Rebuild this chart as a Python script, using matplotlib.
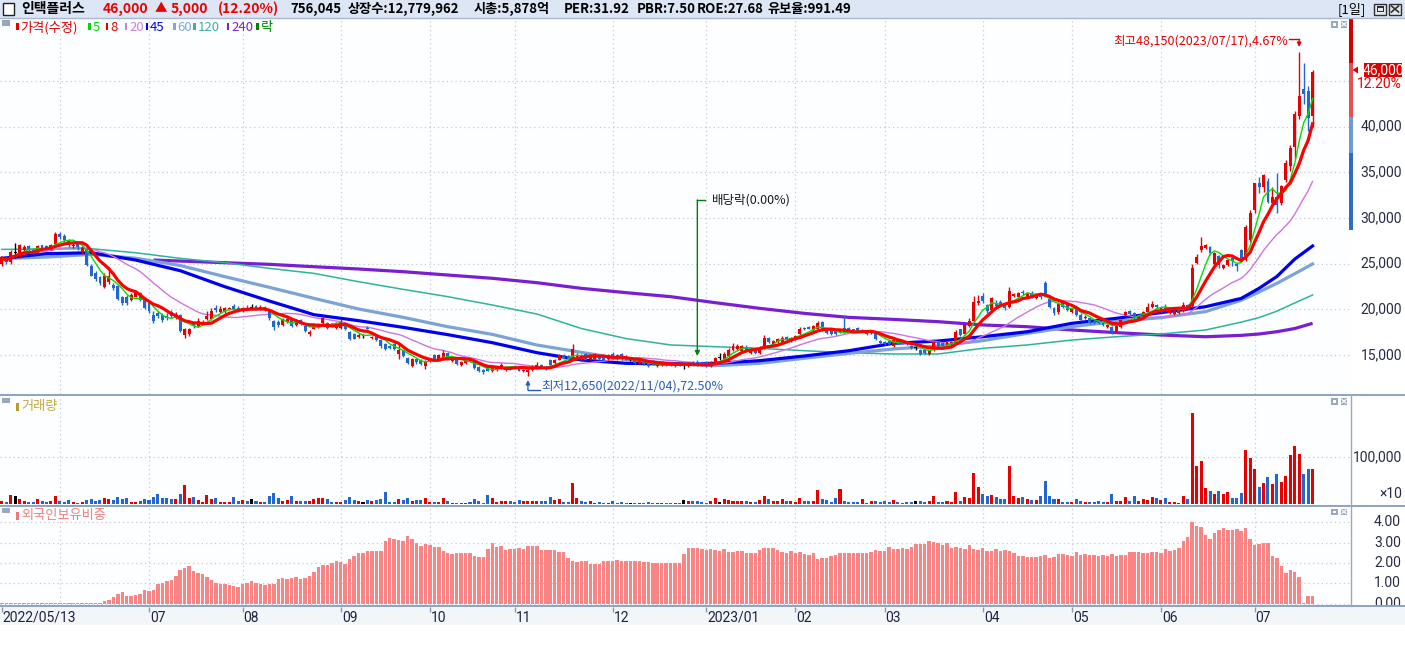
import numpy as np
import pandas as pd
import matplotlib
matplotlib.use("Agg")
import matplotlib.pyplot as plt
from matplotlib.patches import Rectangle, Polygon
from matplotlib.lines import Line2D
from matplotlib.transforms import blended_transform_factory as blend

# ---------------- data (prices in hundreds of won) ----------------
opens = [
    250,256,252,262,258,265,269,266,263,270, 269,267,272,282,280,276,269,272,263,266,
    248,240,235,225,230,227,226,214,214,210, 214,218,212,207,194,196,194,193,197,190,
    194,172,173,184,182,184,189,189,202,197, 197,200,204,202,198,202,202,204,200,203,
    199,187,186,183,186,189,183,188,182,173, 179,181,185,185,184,180,180,182,175,173,
    170,171,180,169,171,166,162,160,162,151, 155,147,138,146,145,138,143,150,146,146,
    152,143,146,139,141,146,143,137,134,137, 132,134,136,134,137,138,136,132,131,134,
    136,139,137,145,141,145,150,149,145,148, 150,151,146,146,150,148,146,151,150,151,
    149,145,145,141,143,141,143,138,139,141, 141,138,141,138,138,142,142,141,142,138,
    142,147,146,149,155,157,154,159,152,155, 152,158,169,162,164,164,170,165,167,173,
    180,181,177,179,186,177,177,176,175,180, 180,178,180,176,176,174,174,165,164,165,
    160,167,164,164,160,158,156,155,151,155, 164,163,160,162,163,178,173,182,187,207,
    215,205,199,207,208,204,203,215,214,219, 213,218,212,217,229,211,201,197,207,206,
    197,200,194,190,190,187,188,185,181,181, 176,181,194,198,196,189,194,197,203,205,
    197,203,196,195,196,198,205,204,251,265, 267,268,250,258.5,245,249,256,250,265,254,
    276,309,338,334,341,316,323,316,342,357, 378,412,441,439,412]
highs = [
    258,258,265,273,272,270,271,267,271,271, 271,272,285,285,283,277,273,273,269,267,
    250,242,237,240,244,229,227,215,216,218, 219,219,213,208,198,198,196,196,199,197,
    195,180,180,186,190,188,198,202,205,204, 203,203,206,204,203,205,206,205,205,204,
    200,188,188,190,190,190,189,189,183,177, 183,185,193,186,185,186,189,184,176,174,
    174,173,182,171,172,167,163,161,163,163, 156,148,147,147,146,144,147,151,151,156,
    153,148,147,143,144,147,144,138,135,138, 138,138,141,138,138,139,137,135,135,139,
    142,140,138,146,146,151,151,150,162,152, 151,152,151,152,151,149,151,153,151,152,
    150,146,146,144,144,142,144,142,143,142, 142,142,142,139,142,143,144,142,143,143,
    148,152,153,158,163,162,161,161,156,156, 160,172,170,166,169,171,171,170,172,181,
    181,182,183,187,187,178,178,177,178,194, 181,179,181,178,177,177,175,166,165,166,
    167,168,165,165,161,160,157,156,156,165, 165,164,165,165,177,179,184,190,215,216,
    218,206,213,210,210,206,225,218,219,221, 219,220,218,218,231,212,203,208,208,207,
    202,201,196,194,191,188,189,186,184,182, 186,189,198,199,197,195,198,207,209,206,
    203,206,200,200,200,208,206,250,260.5,279, 272,269,263,259,250,255,257,251,266,292,
    309,338,345.5,348.5,344,334,349,336,364,380, 417,481.5,470,445,462]
lows = [
    247,250,250,256,256,263,263,261,262,264, 265,265,271,277,274,268,267,265,261,247,
    236,231,227,223,228,221,210,205,205,209, 213,209,200,196,185,191,186,188,191,189,
    175,169,171,180,181,183,188,188,197,196, 196,199,198,197,197,199,199,199,199,198,
    188,177,181,182,185,181,182,183,175,171, 178,180,184,179,181,179,179,177,166,167,
    169,169,178,168,165,158,156,157,156,146, 148,140,137,140,139,135,142,145,145,145,
    146,142,139,138,140,142,135,131,129,132, 131,133,135,133,134,136,132,131,126.5,133,
    135,136,134,138,140,144,146,144,144,147, 145,144,145,145,145,144,145,146,145,145,
    144,143,140,140,139,137,139,137,138,138, 138,137,138,135,137,138,138,138,137,137,
    141,145,145,148,154,156,153,154,151,151, 151,157,163,161,163,163,167,164,166,172,
    177,178,176,178,176,173,172,172,174,174, 176,176,175,175,172,173,166,162,161,161,
    159,162,162,161,157,155,150,151,150,154, 159,159,159,161,162,171,172,181,186,205,
    207,196,198,203,204,199,202,214,213,216, 212,212,211,211,213,201,194,195,202,198,
    196,193,187,189,184,184,184,182,180,173, 175,180,193,194,189,188,193,196,202,202,
    196,199,195,194,195,197,201,203,250,263, 266,260,249,245,244,248,248,242,252,253,
    274,306,327.5,329,316,314,306,314,340,351, 365,408,425,395,400]
closes = [
    256,252,263,262,270,268,265,263,269,266, 267,270,283,279,276,270,271,268,267,249,
    237,233,229,237,236,223,211,207,207,216, 218,210,202,198,187,193,188,190,193,195,
    176,178,179,182,187,186,193,198,199,200, 201,201,199,198,201,200,202,200,203,199,
    190,181,183,189,189,182,187,184,176,175, 182,184,191,180,183,185,186,178,168,168,
    172,171,179,170,166,160,157,158,157,155, 149,141,146,142,140,143,146,146,150,152,
    147,146,140,142,143,143,136,133,131,133, 137,137,139,137,136,137,133,134,134,137,
    139,137,135,139,145,150,147,145,157,150, 146,145,150,151,146,145,150,147,146,146,
    145,145,141,143,140,138,140,141,142,139, 139,141,139,138,141,139,139,139,138,142,
    147,147,151,155,160,160,160,155,155,152, 158,169,164,165,168,169,168,169,171,179,
    178,179,182,185,177,174,173,173,177,175, 177,177,176,177,173,176,168,163,162,162,
    166,163,163,162,158,158,151,152,155,164, 160,160,164,164,175,172,183,187,208,209,
    209,198,212,204,205,201,220,217,218,218, 217,214,216,213,214,203,196,206,203,199,
    201,194,188,192,185,185,185,183,183,176, 185,188,197,195,190,194,197,203,206,203,
    201,200,199,199,199,205,203,245,257,269, 270,262,262,248.5,249,254,253,247,253,290,
    306,338,334,347,318,323,314,335,360,377, 414,434,436,410,460]

# volume in hundreds of shares
volume = [
    64,43,193,171,107,64,43,43,107,64, 50,64,171,64,43,86,50,29,50,86,
    107,64,86,129,107,86,150,107,129,43, 50,64,107,86,150,214,129,129,107,107,
    214,407,129,150,86,43,193,107,129,43, 43,43,150,64,86,64,107,64,43,43,
    171,236,129,64,86,171,64,64,64,64, 107,129,129,107,43,43,43,86,150,86,
    64,43,86,64,86,107,257,43,43,107, 86,129,64,86,86,129,43,43,43,129,
    64,21,21,21,21,43,107,64,21,193, 129,43,64,64,64,43,86,64,64,64,
    64,64,64,150,86,107,43,43,450,129, 64,43,64,21,43,21,21,64,21,43,
    21,21,21,21,21,43,21,21,21,21, 21,21,21,86,64,64,64,43,21,64,
    129,43,107,86,64,64,64,64,43,43, 86,171,107,64,64,107,64,64,43,129,
    64,64,64,300,107,86,43,129,321,64, 43,43,43,107,21,64,64,43,64,43,
    86,43,21,43,43,64,64,43,64,171, 43,43,64,43,257,64,150,129,664,364,
    214,171,193,150,107,107,814,171,129,150, 107,86,86,171,493,171,107,107,43,43,
    43,107,64,43,43,43,64,43,43,214, 64,64,150,64,171,64,107,86,150,129,
    86,129,43,43,21,171,107,1956,814,921, 343,279,214,279,214,257,129,129,236,1157,
    985,750,364,450,578,428,643,471,600,1057, 1242,1071,643,750,750]

# foreign ownership ratio (%)
foreign = [
    0.03,0.03,0.03,0.03,0.03,0.03,0.03,0.03,0.03,0.03, 0.03,0.03,0.03,0.03,0.03,0.03,0.03,0.03,0.03,0.03,
    0.03,0.03,0.03,0.13,0.18,0.30,0.46,0.59,0.36,0.38, 0.41,0.46,0.66,0.63,0.67,0.95,0.99,1.12,1.15,1.37,
    1.65,1.74,1.84,1.61,1.48,1.45,1.32,1.15,0.99,0.95, 0.95,0.91,0.86,0.82,0.95,1.00,1.09,1.00,0.95,0.92,
    0.95,0.95,1.19,1.25,1.19,1.28,1.32,1.19,1.28,1.37, 1.53,1.78,1.91,1.91,1.98,2.11,2.02,1.94,2.19,2.32,
    2.50,2.50,2.60,2.60,2.60,2.60,3.09,3.23,3.16,3.13, 3.08,3.33,3.16,3.00,2.85,2.91,2.86,2.77,2.77,2.57,
    2.49,2.44,2.49,2.49,2.49,2.49,2.34,2.30,2.30,2.70, 2.98,2.80,2.85,2.63,2.70,2.70,2.73,2.67,2.81,2.81,
    2.81,2.63,2.63,2.63,2.63,2.53,2.53,2.24,2.11,2.04, 2.07,2.07,1.94,1.94,1.94,2.07,2.07,2.11,2.14,2.11,
    2.11,2.11,2.11,2.11,2.04,2.04,2.01,2.01,2.01,2.01, 1.99,1.99,1.99,2.44,2.73,2.73,2.73,2.68,2.65,2.68,
    2.65,2.58,2.68,2.53,2.53,2.58,2.58,2.49,2.49,2.49, 2.63,2.73,2.73,2.73,2.63,2.53,2.49,2.58,2.49,2.53,
    2.44,2.39,2.49,2.21,2.26,2.26,2.34,2.39,2.49,2.49, 2.49,2.49,2.49,2.49,2.49,2.53,2.63,2.58,2.58,2.78,
    2.68,2.68,2.73,2.68,2.78,2.93,2.93,2.93,3.08,3.03, 2.98,2.88,2.98,2.73,2.78,2.73,2.68,2.88,2.68,2.63,
    2.73,2.58,2.58,2.68,2.58,2.63,2.58,2.49,2.34,2.34, 2.29,2.29,2.29,2.34,2.39,2.24,2.29,2.44,2.44,2.39,
    2.34,2.53,2.39,2.44,2.39,2.39,2.34,2.39,2.34,2.44, 2.34,2.39,2.39,2.53,2.53,2.53,2.49,2.49,2.53,2.53,
    2.49,2.68,2.58,2.63,2.73,3.08,3.28,4.02,3.82,3.77, 3.37,3.18,3.47,3.62,3.72,3.62,3.62,3.67,3.57,3.72,
    3.18,2.88,2.93,2.98,2.98,2.34,2.24,1.84,1.50,1.65, 1.55,1.30,0.02,0.36,0.36]

ma_idx = [0,10,20,30,40,50,60,70,80,90,100,110,120,130,140,150,160,170,180,190,
          200,210,220,230,240,250,260,270,278,282,286,290,294]
ma45 = [25590,26100,26200,25400,24235,22480,20910,19415,18760,18030,17230,16350,15255,14450,
        14090,14010,14090,14380,14890,15470,16280,16530,17000,17550,18470,19020,19640,20290,
        21200,22300,23600,25500,26940]
ma60 = [25550,25730,26020,25600,24800,23580,22410,21205,20040,19125,18100,17260,16095,15290,
        14500,14090,13830,14090,14640,15180,15660,15990,16570,17370,18100,18690,19090,19750,
        21000,21900,22850,23900,24970]
ma120 = [26570,26600,26640,26200,25585,25110,24490,23940,23030,22190,21390,20475,19490,17900,
         16800,16100,15910,15730,15470,15250,15110,15110,15730,16100,16640,17000,17300,17740,
         18600,19100,19800,20700,21570]
ma240_idx = [34,40,50,60,70,80,90,100,110,120,130,140,150,160,170,180,190,200,210,220,230,
             240,250,260,270,278,282,286,290,294]
ma240 = [25400,25290,25110,24930,24670,24420,24125,23760,23400,22920,22300,21830,21390,20730,
         20110,19560,19120,18900,18650,18290,18100,17740,17450,17190,17000,17150,17300,17550,
         17900,18470]

month_idx = [13,33,54,76,96,115,137,158,178,198,220,240,260,281]
month_lbl = ['','07','08','09','10','11','12','2023/01','02','03','04','05','06','07']
first_lbl = '2022/05/13'
price_ticks = [15000,20000,25000,30000,35000,40000]
price_grid = [15000,20000,25000,30000,35000,40000,45000]
foreign_ticks = [0,1,2,3,4]

low_idx, low_text = 118, '최저12,650(2022/11/04),72.50%'
high_idx, high_text = 291, '최고48,150(2023/07/17),4.67%'
div_idx, div_text = 156, '배당락(0.00%)'

# ---------------- setup ----------------
KR = ['Noto Sans CJK KR', 'DejaVu Sans']
NUM = ['Liberation Sans Narrow', 'Roboto', 'DejaVu Sans']
plt.rcParams['font.family'] = KR

O = np.array(opens, float) * 100
Hh = np.array(highs, float) * 100
L = np.array(lows, float) * 100
C = np.array(closes, float) * 100
V = np.array(volume, float) * 100
F = np.array(foreign, float)
n = len(C)
idx = np.arange(n)

RED = '#e80000'
BLUE = '#2266d2'
GRID = '#c4cad4'
col = np.where(C > O, RED, np.where(C < O, BLUE, '#000000'))

W, H = 1405, 648
fig = plt.figure(figsize=(W / 100, H / 100), dpi=100)
fig.patch.set_facecolor('white')


def box(x0, y0, x1, y1):
    return [x0 / W, 1 - y1 / H, (x1 - x0) / W, (y1 - y0) / H]


def ftxt(x, y, s, **kw):
    kw.setdefault('va', 'center')
    return fig.text(x / W, 1 - y / H, s, **kw)


def frect(x0, y0, x1, y1, **kw):
    r = Rectangle((x0 / W, 1 - y1 / H), (x1 - x0) / W, (y1 - y0) / H,
                  transform=fig.transFigure, **kw)
    fig.add_artist(r)
    return r


def fline(xs, ys, **kw):
    fig.add_artist(Line2D([x / W for x in xs], [1 - y / H for y in ys],
                          transform=fig.transFigure, **kw))


PX0, STEP = 1.9, 4.458
XL = ((0 - PX0) / STEP, (1350 - PX0) / STEP)


def p_at(y):      # price value at pixel row y
    return 15000 + (355 - y) / 0.00913


def v_at(y):
    return (504 - y) * 100000 / 46.7


def f_at(y):
    return (603.5 - y) / 20.3


def clean(ax):
    for s in ax.spines.values():
        s.set_visible(False)
    ax.set_xticks([])
    ax.set_yticks([])
    ax.set_xlim(*XL)


dot = (0, (1, 2.5))

# ---------------- price panel ----------------
axp = fig.add_axes(box(0, 18, 1350, 394))
clean(axp)
axp.set_facecolor('#fdfeff')
axp.set_ylim(p_at(394), p_at(18))
for m in month_idx:
    axp.axvline(m, color=GRID, lw=0.9, ls=dot, zorder=0)
for g in price_grid:
    axp.axhline(g, color=GRID, lw=0.9, ls=dot, zorder=0)

axp.plot(ma240_idx, ma240, color='#7a1ed2', lw=2.3, zorder=1, solid_capstyle='butt')
axp.plot(ma_idx, ma120, color='#2fb29f', lw=1.1, zorder=1)
axp.plot(ma_idx, ma60, color='#7ba3d6', lw=2.3, zorder=1)
axp.plot(ma_idx, ma45, color='#0000f0', lw=2.3, zorder=1)
ma20 = pd.Series(C).rolling(20, min_periods=1).mean()
axp.plot(idx, ma20, color='#d074e0', lw=1.0, zorder=2)

axp.vlines(idx, L, Hh, colors=col, lw=1.0, zorder=3)
body_h = np.maximum(np.abs(C - O), 80)
body_b = np.minimum(O, C) - np.where(C == O, 40, 0)
axp.bar(idx, body_h, bottom=body_b, width=0.66, color=col, linewidth=0, zorder=4)

ma5 = pd.Series(C).rolling(5, min_periods=1).mean()
ma8 = pd.Series(C).rolling(8, min_periods=1).mean()
axp.plot(idx, ma5, color='#00e000', lw=1.0, zorder=5)
axp.plot(idx, ma8, color='#ff0000', lw=2.3, zorder=6)

# dividend marker
axp.annotate('', xy=(div_idx, p_at(356)), xytext=(div_idx, p_at(200)),
             arrowprops=dict(arrowstyle='-|>', color='#008000', lw=1.0,
                             mutation_scale=7, shrinkA=0, shrinkB=0), zorder=7)
axp.plot([div_idx, div_idx + 1.8], [p_at(200), p_at(200)], color='#008000', lw=1.0, zorder=7)
axp.text(div_idx + 3.2, p_at(200), div_text, color='#1a1a1a', fontsize=9,
         va='center', ha='left', zorder=8)

# low marker
axp.annotate('', xy=(low_idx, p_at(380)), xytext=(low_idx, p_at(390)),
             arrowprops=dict(arrowstyle='-|>', color='#2a5cc0', lw=1.0,
                             mutation_scale=6, shrinkA=0, shrinkB=0), zorder=7)
axp.plot([low_idx, low_idx + 2.8], [p_at(389.5), p_at(389.5)], color='#2a5cc0', lw=1.0, zorder=7)
axp.text(low_idx + 3.1, p_at(386.5), low_text, color='#2a5cc0', fontsize=9,
         va='center', ha='left', zorder=8)

# high marker
axp.text(high_idx - 2.6, p_at(41), high_text, color=RED, fontsize=9,
         va='center', ha='right', zorder=8)
axp.plot([high_idx - 2.3, high_idx], [p_at(39.5), p_at(39.5)], color=RED, lw=1.0, zorder=7)
axp.annotate('', xy=(high_idx, p_at(47)), xytext=(high_idx, p_at(39.5)),
             arrowprops=dict(arrowstyle='-|>', color=RED, lw=1.0,
                             mutation_scale=6, shrinkA=0, shrinkB=0), zorder=7)

tr = blend(axp.transAxes, axp.transData)
for t in price_ticks:
    axp.text(1402 / 1350, t, f'{t:,}', transform=tr, ha='right', va='center',
             fontsize=10, family=NUM, color='#262b45', clip_on=False)

# ---------------- volume panel ----------------
axv = fig.add_axes(box(0, 395, 1350, 505))
clean(axv)
axv.set_facecolor('#fdfeff')
axv.set_ylim(v_at(505), v_at(395))
for m in month_idx:
    axv.axvline(m, color=GRID, lw=0.9, ls=dot, zorder=0)
axv.axhline(100000, color=GRID, lw=0.9, ls=dot, zorder=0)
axv.bar(idx, V, width=0.68, color=col, linewidth=0, zorder=2)
trv = blend(axv.transAxes, axv.transData)
axv.text(1402 / 1350, 100000, '100,000', transform=trv, ha='right', va='center',
         fontsize=10, family=NUM, color='#262b45', clip_on=False)
ftxt(1402, 494, '×10', ha='right', fontsize=10, family=NUM, color='#262b45')

# ---------------- foreign ownership panel ----------------
axf = fig.add_axes(box(0, 506, 1350, 606))
clean(axf)
axf.set_facecolor('#fdfeff')
axf.set_ylim(f_at(606), f_at(506))
for m in month_idx:
    axf.axvline(m, color=GRID, lw=0.9, ls=dot, zorder=0)
for t in foreign_ticks:
    axf.axhline(t, color=GRID, lw=0.9, ls=dot, zorder=0)
axf.bar(idx, F, width=0.78, color='#f88484', linewidth=0, zorder=2)
trf = blend(axf.transAxes, axf.transData)
for t in foreign_ticks:
    axf.text(1401 / 1350, t, f'{t:.2f}', transform=trf, ha='right', va='center',
             fontsize=10, family=NUM, color='#262b45', clip_on=False)

# ---------------- date strip ----------------
axd = fig.add_axes(box(0, 606, 1405, 625))
for s in axd.spines.values():
    s.set_visible(False)
axd.set_xticks([])
axd.set_yticks([])
axd.set_facecolor('#f3f6f9')
axd.set_xlim(XL[0], (1405 - PX0) / STEP)
axd.set_ylim(625, 606)
axd.vlines([0] + month_idx[1:], 606.5, 611.5, colors='#8a98b0', lw=1.0)
axd.text(0.02, 617.5, first_lbl, ha='left', va='center', fontsize=10, family=NUM, color='#1c2342')
for m, lb in zip(month_idx, month_lbl):
    if lb:
        axd.text(m + 0.25, 617.5, lb, ha='left', va='center', fontsize=10,
                 family=NUM, color='#1c2342')

# ---------------- frame lines & decorations ----------------
frect(0, 0, 1405, 18, facecolor='#dde6f4', edgecolor='none', zorder=0)
fline([0, 1405], [18, 18], color='#a9b8d0', lw=1.0)
for yy in (394.5, 505.5, 606):
    fline([0, 1405], [yy, yy], color='#8ea3c2', lw=1.4)
fline([1350.5, 1350.5], [395, 606], color='#9aa8bc', lw=1.0)

# right-side price range bar
frect(1349, 18, 1353, 63, facecolor='#d40000', edgecolor='none')
frect(1349, 63, 1353, 117, facecolor='#e85050', edgecolor='none')
frect(1349, 117, 1353, 153, facecolor='#6f98d6', edgecolor='none')
frect(1349, 153, 1353, 230, facecolor='#2e6cc6', edgecolor='none')

# current price box
frect(1364, 63, 1402, 76.5, facecolor='#dd0000', edgecolor='none')
ftxt(1383, 69.8, '46,000', ha='center', fontsize=10, family=NUM, color='white')
fig.add_artist(Polygon([(1352.5 / W, 1 - 70 / H), (1358 / W, 1 - 66.5 / H), (1358 / W, 1 - 73.5 / H)],
                       closed=True, transform=fig.transFigure, facecolor='#dd0000', edgecolor='none'))
ftxt(1402, 84, '12.20%', ha='right', fontsize=10, family=NUM, color=RED)

# header texts
frect(2.5, 3, 13.5, 15, facecolor='white', edgecolor='#202020', lw=1.0)
hk = dict(fontsize=10, fontweight='bold', family=KR)
hs = dict(fontsize=9.5, fontweight='bold', family=KR)
ftxt(21, 9, '인택플러스', color='black', **hk)
ftxt(103, 9, '46,000', color=RED, **hk)
ftxt(155, 9, '▲', color=RED, fontsize=9, family=KR)
ftxt(171, 9, '5,000', color=RED, **hk)
ftxt(218, 9, '(12.20%)', color=RED, **hk)
ftxt(290, 9, '756,045', color='black', **hs)
ftxt(348, 9, '상장수:12,779,962', color='black', **hs)
ftxt(474, 9, '시총:5,878억', color='black', **hs)
ftxt(564, 9, 'PER:31.92', color='black', **hs)
ftxt(637, 9, 'PBR:7.50', color='black', **hs)
ftxt(697, 9, 'ROE:27.68', color='black', **hs)
ftxt(767, 9, '유보율:991.49', color='black', **hs)
ftxt(1338, 9, '[1일]', color='black', fontsize=9.5, family=KR)
for x0 in (1374, 1389):
    frect(x0, 3.5, x0 + 12, 14.5, facecolor='#e6e9ee', edgecolor='#303030', lw=1.0)
frect(1376.5, 6, 1383.5, 12, facecolor='#303030', edgecolor='none')
frect(1377.5, 8, 1382.5, 11, facecolor='#e6e9ee', edgecolor='none')
fline([1391.5, 1398.5], [6, 12], color='#303030', lw=1.2)
fline([1391.5, 1398.5], [12, 6], color='#303030', lw=1.2)

# panel header icons and legends
for yt in (20.5, 397.5, 507.5):
    frect(1.5, yt, 10, yt + 5, facecolor='#97a7bf', edgecolor='none')
for yt in (21, 398, 508.5):
    for x0 in (1331, 1340.5):
        frect(x0, yt, x0 + 6.5, yt + 6.5, facecolor='#9aa9bf', edgecolor='none')
    frect(1332.5, yt + 2, 1336, yt + 4.5, facecolor='white', edgecolor='none')
    fline([1342, 1346], [yt + 1.5, yt + 5], color='white', lw=0.9)
    fline([1342, 1346], [yt + 5, yt + 1.5], color='white', lw=0.9)

legend_items = [('가격(수정)', 16, '#e00000'), ('5', 88.5, '#00d800'), ('8', 106, '#e00000'),
                ('20', 125, '#cc80dc'), ('45', 145.5, '#0000ff'), ('60', 173, '#7fa6d6'),
                ('120', 193, '#3fb0a0'), ('240', 226.5, '#8020d0'), ('락', 256, '#008000')]
for lab, mx, c in legend_items:
    frect(mx, 23, mx + 2.5, 30, facecolor=c, edgecolor='none')
    ftxt(mx + 4.5, 27.5, lab, color=c, fontsize=9.5, family=KR)

frect(16, 402.5, 19, 410.5, facecolor='#b4a030', edgecolor='none')
ftxt(21.5, 406.5, '거래량', color='#c0aa40', fontsize=9.5, family=KR)
frect(16, 511.5, 19, 519.5, facecolor='#f07878', edgecolor='none')
ftxt(21.5, 515.5, '외국인보유비중', color='#f08080', fontsize=9.5, family=KR)

fig.savefig('out.png', dpi=100, facecolor=fig.get_facecolor())
